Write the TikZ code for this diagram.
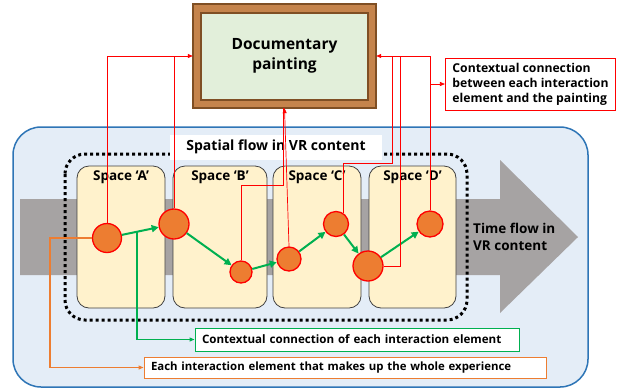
\documentclass[tikz,border=0pt]{standalone}
\usepackage{fontspec}
\setmainfont{Open Sans}
\usetikzlibrary{arrows.meta,positioning,calc}

\definecolor{framebrown}{HTML}{C5844C}
\definecolor{darkbrown}{HTML}{7F4F24}
\definecolor{canvasgreen}{HTML}{E2EFDA}
\definecolor{vrblue}{HTML}{2E75B6}
\definecolor{vrfill}{HTML}{E4EDF7}
\definecolor{timegray}{HTML}{A6A3A3}
\definecolor{spacefill}{HTML}{FFF2CC}
\definecolor{elemorange}{HTML}{ED7D31}
\definecolor{linkgreen}{HTML}{00B050}

\tikzset{
  elem/.style={circle, fill=elemorange, draw=red, line width=1.3pt, inner sep=0pt, minimum size=#1},
  spacebox/.style={draw=black!75, fill=spacefill, rounded corners=12pt, line width=0.8pt,
    minimum width=#1, minimum height=142pt},
  spacettl/.style={inner sep=0pt, font=\bfseries\fontsize{13.5}{16}\selectfont},
  flow/.style={linkgreen, line width=2pt, -{Triangle[length=7pt,width=7pt]}},
  ctx/.style={red, line width=0.7pt},
  ctxarr/.style={ctx, -{Triangle[length=5pt,width=4pt]}},
  lblbox/.style={draw=#1, fill=white, line width=1pt, align=left, inner xsep=7pt},
}

\begin{document}
\begin{tikzpicture}[x=1pt,y=-1pt]
\useasboundingbox (0,0) rectangle (617,389);

% painting frame
\filldraw[fill=framebrown, draw=darkbrown, line width=1.8pt] (193,4) rectangle (376,108);
\filldraw[fill=canvasgreen, draw=darkbrown, line width=1.2pt] (201,13) rectangle (368,100);
\node[minimum width=183pt, minimum height=104pt, align=center,
  font=\bfseries\fontsize{15.5}{20}\selectfont] (painting) at (284.5,56) {Documentary\\painting};

% VR content box
\filldraw[fill=vrfill, draw=vrblue, line width=1.5pt, rounded corners=28pt] (13,127) rectangle (588,387);

% time flow arrow
\fill[timegray] (20,199) -- (500,199) -- (500,160) -- (578,237) -- (500,313) -- (500,275) -- (20,275) -- cycle;
\node[anchor=west, align=left, inner sep=0pt, font=\bfseries\fontsize{13.5}{17}\selectfont]
  (timeflow) at (473,237) {Time flow in\\VR content};

% spatial flow
\draw[line width=3pt, dash pattern=on 3pt off 3pt, rounded corners=20pt] (65,154) rectangle (467,320);
\node[fill=white, minimum width=212pt, minimum height=25pt,
  font=\bfseries\fontsize{14}{16}\selectfont] (spatial) at (276,147) {Spatial flow in VR content};

\node[spacebox=88pt] (spA) at (121,237) {};
\node[spacebox=94pt] (spB) at (220,237) {};
\node[spacebox=88pt] (spC) at (317,237) {};
\node[spacebox=87pt] (spD) at (412.5,237) {};
\node[spacettl, below=5pt of spA.north] {Space ‘A’};
\node[spacettl, below=5pt of spB.north] {Space ‘B’};
\node[spacettl, below=5pt of spC.north] {Space ‘C’};
\node[spacettl, below=5pt of spD.north] {Space ‘D’};

% interaction elements
\node[elem=29pt] (c1) at (107,238) {};
\node[elem=30pt] (c2) at (174,224) {};
\node[elem=22pt] (c3) at (241,272) {};
\node[elem=24pt] (c4) at (289,259) {};
\node[elem=25pt] (c5) at (336,224) {};
\node[elem=30pt] (c6) at (368,266) {};
\node[elem=26pt] (c7) at (430,224) {};

\draw[flow] (c1) -- (c2);
\draw[flow] (c2) -- (c3);
\draw[flow] (c3) -- (c4);
\draw[flow] (c4) -- (c5);
\draw[flow] (c5) -- (c6);
\draw[flow] (c6) -- (c7);

% legend boxes
\node[lblbox=red, minimum width=165pt, minimum height=52pt,
  font=\bfseries\fontsize{12.2}{15}\selectfont] (redlbl) at (530.5,84)
  {Contextual connection\\between each interaction\\element and the painting};
\node[lblbox=linkgreen, text width=310pt, minimum height=23pt,
  font=\bfseries\fontsize{11.6}{15}\selectfont] (greenlbl) at (357,339.5)
  {\mbox{Contextual connection of each interaction element}};
\node[lblbox=elemorange, text width=388pt, minimum height=21pt,
  font=\bfseries\fontsize{11.4}{14}\selectfont] (orangelbl) at (345,367.5)
  {\mbox{Each interaction element that makes up the whole experience}};

% connections to the painting
\draw[ctxarr] (c1.north) |- (painting.west);
\draw[ctx] (c2.north) -- (c2.north |- painting.west);
\draw[ctxarr] (c4.north) -- (painting.south);
\draw[ctx] (c3.north) |- (283,185) -- (283,108);
\draw[ctx] (c5.55) |- (392,163) -- (392,56);
\draw[ctx] (c6.east) -| (400,56);
\draw[ctxarr] (c7.north) |- (painting.east);
\draw[ctxarr] (c7.north |- redlbl.west) -- (redlbl.west);

% legend connectors
\coordinate (gtap) at ($(c1)!0.45!(c2)$);
\draw[linkgreen, line width=1.4pt, -{Triangle[length=5pt,width=4pt]}] (gtap) |- (greenlbl.west);
\draw[elemorange, line width=1.4pt, -{Triangle[length=5pt,width=4pt]}] (c1.west) -- (50,238) |- (orangelbl.west);

\end{tikzpicture}
\end{document}
